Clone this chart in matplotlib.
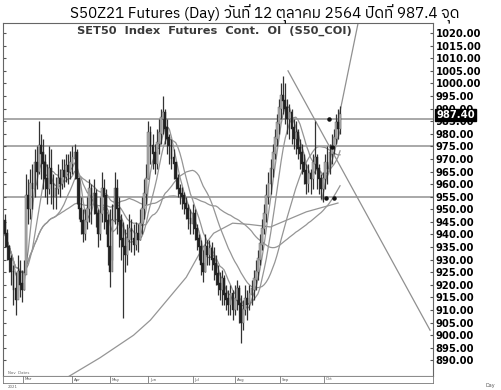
import matplotlib
matplotlib.use('Agg')
import matplotlib.pyplot as plt
import numpy as np
import pandas as pd
from matplotlib import font_manager
from matplotlib.ft2font import FT2Font

# daily bars, S50 futures (Feb - 12 Oct 2021)
close = [940, 935, 930, 925, 918, 914, 925, 920, 918, 924,
         955, 950, 960, 958, 968, 965, 975, 972, 968, 962,
         958, 966, 960, 955, 958, 962, 960, 965, 963, 967,
         965, 968, 970, 972, 962, 950, 945, 940, 945, 950,
         958, 952, 956, 948, 940, 948, 958, 955, 945, 935,
         925, 945, 958, 950, 945, 938, 935, 932, 938, 942,
         938, 936, 940, 938, 944, 950, 956, 962, 980, 975,
         972, 968, 976, 980, 986, 988, 982, 978, 975, 970,
         968, 962, 958, 956, 955, 952, 950, 946, 944, 948,
         942, 938, 935, 928, 925, 935, 932, 934, 930, 928,
         924, 920, 918, 922, 916, 914, 912, 916, 910, 914,
         918, 912, 905, 910, 914, 912, 916, 918, 922, 925,
         930, 936, 942, 948, 955, 960, 966, 972, 978, 984,
         990, 995, 993, 990, 986, 988, 982, 978, 980, 974,
         972, 968, 965, 960, 964, 962, 968, 970, 966, 962,
         958, 962, 968, 966, 972, 975, 978, 984, 982, 987.4]
high = [948, 942, 936, 932, 928, 925, 932, 930, 926, 930,
        964, 962, 966, 968, 974, 975, 985, 980, 978, 972,
        968, 975, 974, 964, 963, 968, 966, 970, 970, 972,
        972, 973, 975, 976, 974, 962, 955, 950, 950, 955,
        962, 960, 962, 958, 950, 955, 965, 962, 958, 948,
        950, 952, 965, 962, 955, 948, 945, 942, 944, 948,
        946, 944, 945, 944, 950, 955, 962, 968, 985, 983,
        980, 976, 982, 986, 990, 995, 990, 986, 980, 978,
        974, 968, 964, 960, 959, 957, 955, 952, 950, 952,
        950, 944, 940, 938, 934, 940, 938, 938, 937, 935,
        932, 928, 925, 926, 924, 920, 918, 920, 918, 920,
        922, 920, 916, 914, 920, 918, 920, 922, 926, 930,
        934, 940, 946, 952, 960, 965, 970, 976, 982, 988,
        994, 1000, 1003, 1000, 994, 992, 990, 986, 985, 982,
        978, 976, 972, 968, 968, 966, 972, 985, 972, 968,
        964, 965, 972, 975, 976, 980, 982, 988, 990, 991]
low = [935, 930, 925, 920, 912, 908, 918, 915, 913, 918,
       930, 944, 946, 950, 955, 958, 964, 962, 958, 955,
       952, 956, 952, 950, 950, 956, 955, 958, 959, 961,
       960, 962, 964, 962, 952, 946, 940, 937, 938, 942,
       945, 944, 948, 943, 935, 938, 945, 942, 940, 928,
       919, 930, 944, 940, 935, 930, 907, 925, 928, 934,
       933, 932, 934, 933, 938, 940, 946, 952, 962, 968,
       966, 964, 966, 972, 976, 980, 976, 972, 968, 966,
       962, 958, 955, 952, 950, 948, 946, 942, 940, 940,
       938, 934, 930, 924, 921, 925, 928, 928, 926, 922,
       920, 916, 914, 912, 912, 910, 908, 908, 906, 908,
       910, 905, 897, 902, 908, 906, 910, 912, 914, 918,
       922, 928, 934, 940, 945, 952, 956, 963, 970, 975,
       980, 986, 988, 984, 980, 978, 976, 974, 972, 970,
       966, 964, 960, 956, 957, 956, 958, 964, 958, 956,
       954, 953, 958, 960, 964, 968, 972, 976, 978, 980]

# long moving average (bar index, value)
long_ma_x = [30, 45, 61, 69, 77, 86, 94, 99, 108, 116, 126, 143, 158]
long_ma_y = [883.5, 891, 900, 906, 914, 923, 935, 940.5, 944.5, 944, 943, 949, 952.5]
ma_periods = [5, 10, 25, 50]

# horizontal levels, trend lines, marker dots
levels = [986, 975, 955]
trend1_x, trend1_y = [134.3, 201.7], [1005, 902]
trend2_x, trend2_y = [150.4, 170.0], [953.7, 1034]
dot_x = [153.7, 155.2, 152.5, 156.2]
dot_y = [986, 974.8, 954.5, 954.5]

month_pos = [8.5, 31.8, 49.8, 67.9, 89.2, 109.2, 130.5, 151.4]
month_lab = ['Mar', 'Apr', 'May', 'Jun', 'Jul', 'Aug', 'Sep', 'Oct']
last_price = 987.40

# find a font with thai glyphs for the title
thai_font = None
for f in sorted(font_manager.findSystemFonts()):
    try:
        if 0x0E27 in FT2Font(f).get_charmap():
            thai_font = font_manager.FontProperties(fname=f).get_name()
            if 'Thai' in thai_font:
                break
    except Exception:
        pass

fig = plt.figure(figsize=(5.01, 3.90), dpi=100)
W, H = 501, 390
ax = fig.add_axes([3 / W, (H - 376) / H, 430 / W, (376 - 23) / H])

n = len(close)
idx = np.arange(n)
opn = [945] + close[:-1]
up = np.array(close) >= np.array(opn)

for lv in levels:
    ax.axhline(lv, color='#a8a8a8', lw=1.4, zorder=1)

cs = pd.Series(close)
for p in ma_periods:
    ax.plot(idx, cs.rolling(p, min_periods=1).mean(), color='#959595', lw=0.9, zorder=2)
ax.plot(long_ma_x, long_ma_y, color='#959595', lw=0.9, zorder=2)

ax.vlines(idx, low, high, color='#333333', lw=0.9, zorder=3)
body_lo = np.minimum(opn, close)
body_h = np.abs(np.array(close) - np.array(opn)) + 0.6
ax.bar(idx[up], body_h[up], bottom=body_lo[up], width=0.85, color='#b0b0b0',
       edgecolor='#555555', lw=0.3, zorder=4)
ax.bar(idx[~up], body_h[~up], bottom=body_lo[~up], width=0.85, color='#222222',
       edgecolor='#222222', lw=0.3, zorder=4)

ax.plot(trend1_x, trend1_y, color='#909090', lw=0.9, zorder=2)
ax.plot(trend2_x, trend2_y, color='#909090', lw=0.9, zorder=2)
ax.scatter(dot_x, dot_y, s=5, color='#111111', zorder=5)

ax.set_xlim(-0.95, 203.1)
ax.set_ylim(883.8, 1024.0)
ax.set_xticks([])
ax.set_yticks(np.arange(890, 1021, 5))
ax.set_yticklabels(['%.2f' % v for v in np.arange(890, 1021, 5)])
ax.tick_params(axis='y', direction='in', length=2, pad=2, labelsize=7.2,
               colors='#555555', labelcolor='black', left=True, right=True,
               labelleft=False, labelright=True)
for lab in ax.get_yticklabels():
    lab.set_fontweight('bold')
for s in ['left', 'top', 'right', 'bottom']:
    ax.spines[s].set_color('#666666')
    ax.spines[s].set_linewidth(0.8)

# last price tag
ax.text(1.008, last_price, '%.2f' % last_price, transform=ax.get_yaxis_transform(),
        ha='left', va='center', fontsize=7.2, fontweight='bold', color='white',
        bbox=dict(boxstyle='square,pad=0.12', fc='black', ec='black'), zorder=10, clip_on=False)

ax.text(0.172, 0.992, 'SET50  Index  Futures  Cont.  OI  (S50_COI)', transform=ax.transAxes,
        ha='left', va='top', fontsize=8.2, fontweight='bold', color='#3a3a3a')

# month strip
ax2 = fig.add_axes([3 / W, (H - 383) / H, 430 / W, 7 / H])
ax2.set_xlim(-0.95, 203.1)
ax2.set_ylim(0, 1)
ax2.set_xticks([])
ax2.set_yticks([])
for s in ax2.spines.values():
    s.set_color('#777777')
    s.set_linewidth(0.6)
for mp, ml in zip(month_pos, month_lab):
    ax2.axvline(mp, color='#777777', lw=0.6)
    ax2.text(mp + 0.8, 0.5, ml, fontsize=2.8, va='center', ha='left', color='#555555')

fig.text(8 / W, 1 - 373 / H, 'Nov  Dates', fontsize=2.8, color='#666666', va='center')
fig.text(8 / W, 1 - 387 / H, '2021', fontsize=2.8, color='#666666', va='center')
fig.text(485 / W, 1 - 385 / H, 'Day', fontsize=3.5, color='#555555', va='center')

title = 'S50Z21 Futures (Day) วันที่ 12 ตุลาคม 2564 ปิดที่ 987.4 จุด'
fams = [thai_font, 'DejaVu Sans'] if thai_font else ['DejaVu Sans']
fig.text(265 / W, 1 - 14.5 / H, title, fontsize=11, ha='center', va='center', family=fams)

fig.savefig('out.png', dpi=100)
